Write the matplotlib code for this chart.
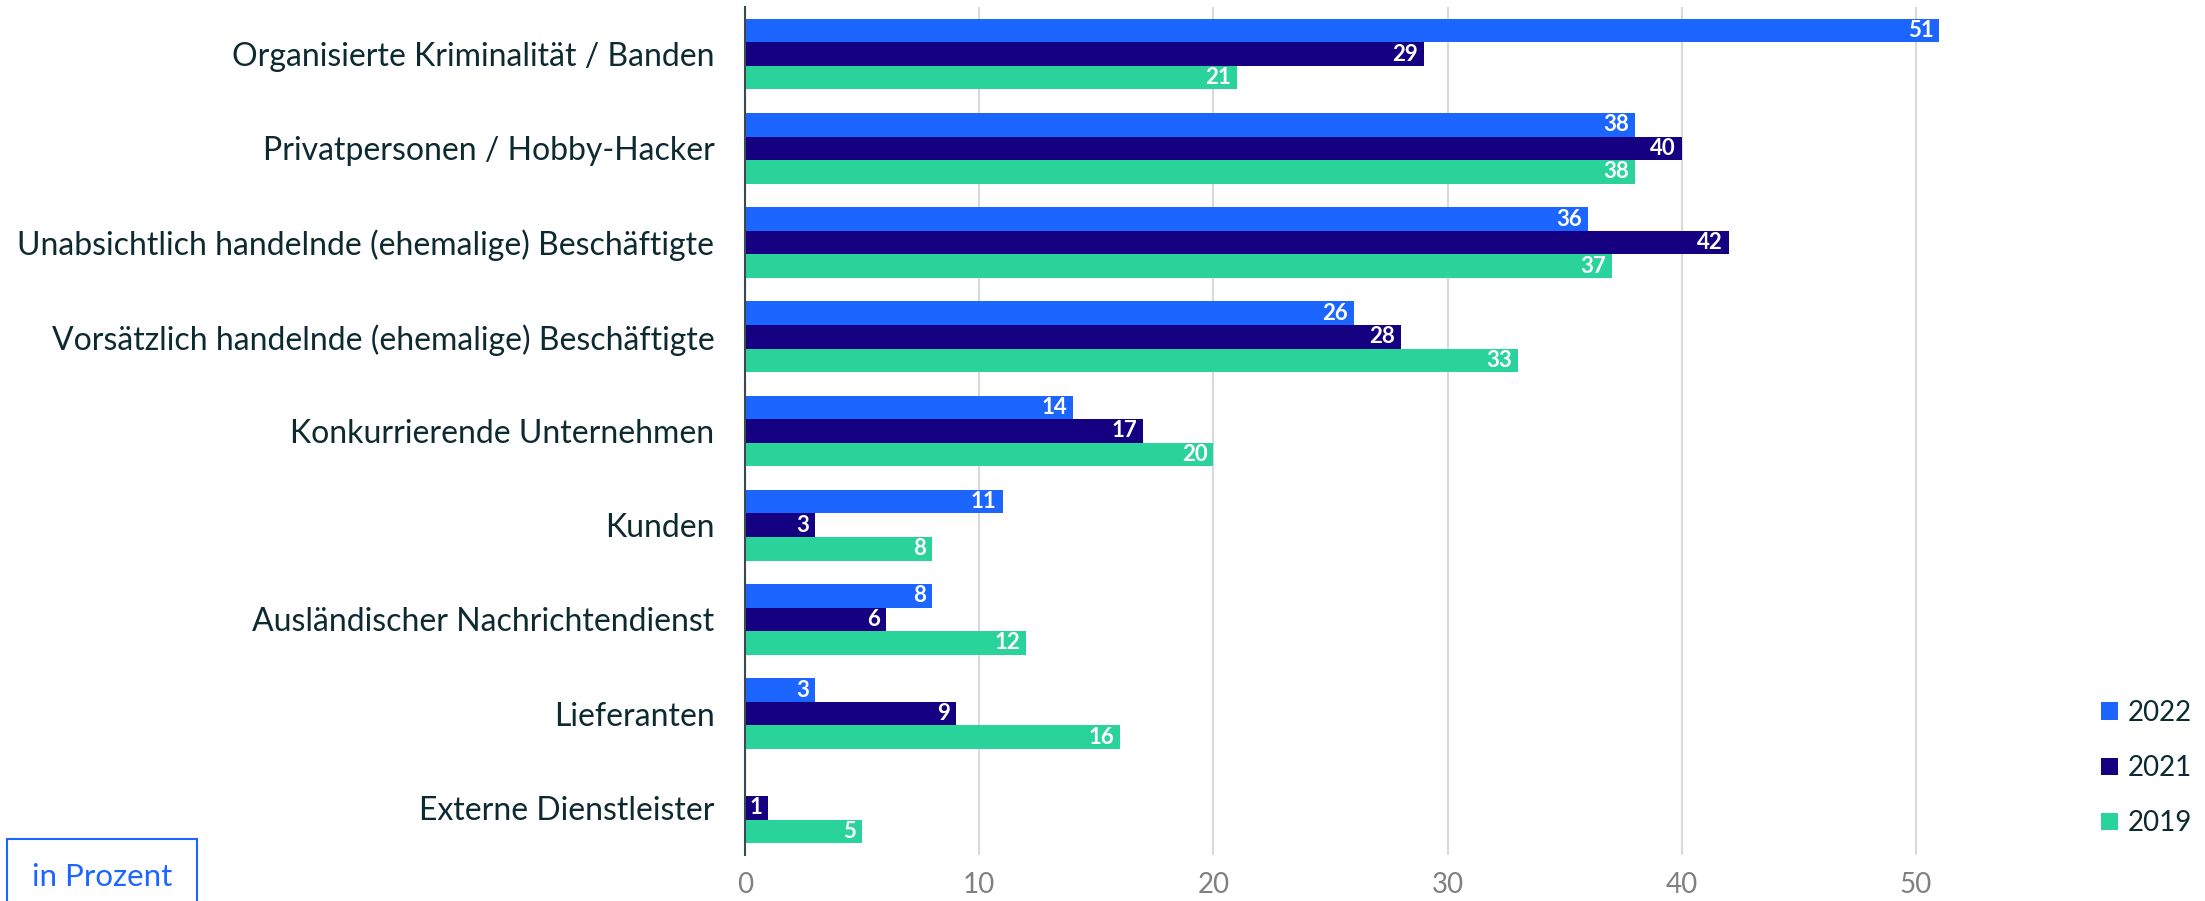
import matplotlib.pyplot as plt
import numpy as np
from matplotlib.patches import Rectangle

plt.rcParams['font.family'] = ['Lato', 'DejaVu Sans']

categories = [
    'Organisierte Kriminalität / Banden',
    'Privatpersonen / Hobby-Hacker',
    'Unabsichtlich handelnde (ehemalige) Beschäftigte',
    'Vorsätzlich handelnde (ehemalige) Beschäftigte',
    'Konkurrierende Unternehmen',
    'Kunden',
    'Ausländischer Nachrichtendienst',
    'Lieferanten',
    'Externe Dienstleister',
]
years = ['2022', '2021', '2019']
v2022 = [51, 38, 36, 26, 14, 11, 8, 3, 0]
v2021 = [29, 40, 42, 28, 17, 3, 6, 9, 1]
v2019 = [21, 38, 37, 33, 20, 8, 12, 16, 5]
colors = ['#1c66ff', '#140080', '#2ad39a']
text_color = '#0d2a30'

fig = plt.figure(figsize=(22.05, 9.01), dpi=100)
ax = fig.add_axes([745 / 2205, 46 / 901, 1335 / 2205, 848 / 901])

n = len(categories)
y = np.arange(n)
h = 0.25
for i, (vals, col) in enumerate(zip([v2022, v2021, v2019], colors)):
    pos = y + (i - 1) * h
    ax.barh(pos, vals, height=h, color=col, label=years[i], zorder=3)
    for p, v in zip(pos, vals):
        if v > 0:
            ax.text(v - 0.25, p, str(v), ha='right', va='center', color='white',
                    fontsize=16, fontweight='bold', zorder=4)

ax.set_ylim(n - 0.5, -0.5)
ax.set_xlim(0, 57)
ax.set_xticks([0, 10, 20, 30, 40, 50])
ax.set_yticks(y)
ax.set_yticklabels(categories, fontsize=23, color=text_color)
ax.tick_params(axis='x', labelsize=20, labelcolor='#808080', length=0, pad=12)
ax.tick_params(axis='y', length=0, pad=22)
ax.grid(axis='x', color='#d9d9d9', linewidth=1.5, zorder=0)
for s in ['top', 'right', 'bottom']:
    ax.spines[s].set_visible(False)
ax.spines['left'].set_color('#3a4a50')
ax.spines['left'].set_linewidth(1.5)
ax.spines['left'].set_zorder(5)

leg = fig.legend(loc='upper left', bbox_to_anchor=(2076 / 2205, 226 / 901), frameon=False,
                 fontsize=20, handlelength=0.6, handleheight=0.6, handletextpad=0.35,
                 labelspacing=1.05, labelcolor=text_color)

# "in Prozent" box
fig.patches.append(Rectangle((7 / 2205, -0.01), 190 / 2205, 71 / 901, transform=fig.transFigure,
                             fill=False, edgecolor='#1c66ff', linewidth=1.5))
fig.text(102 / 2205, 24 / 901, 'in Prozent', ha='center', va='center', fontsize=22.5, color='#1c66ff')

fig.savefig('out.png', dpi=100)
